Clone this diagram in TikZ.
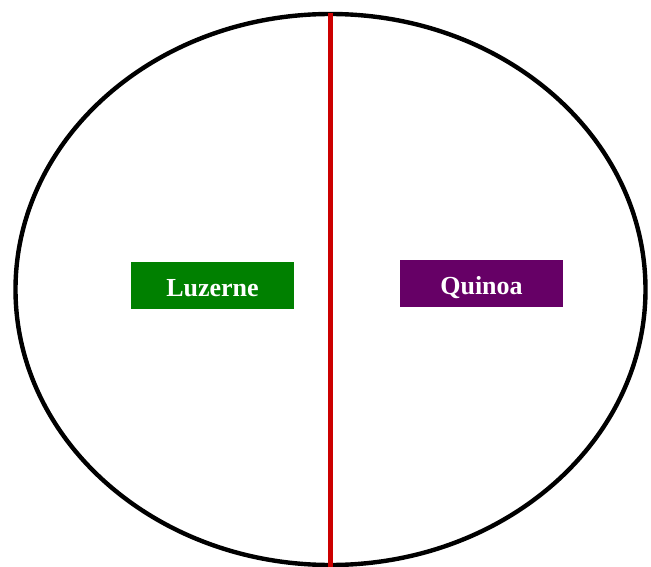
\documentclass[tikz,border=0pt]{standalone}
\usepackage{fontspec}
\setmainfont{Liberation Serif}
\definecolor{luzgreen}{RGB}{0,128,0}
\definecolor{quipurple}{RGB}{102,0,102}
\definecolor{divred}{RGB}{204,0,0}
\tikzset{
  cropbox/.style={minimum width=163pt, minimum height=47pt, inner sep=0pt, text=white,
    text height=22.5pt, text depth=0pt,
    font=\fontsize{26}{30}\selectfont\bfseries},
}
\begin{document}
\begin{tikzpicture}[x=1pt,y=-1pt]
\useasboundingbox (0,0) rectangle (651,567);
\fill[white] (0,0) rectangle (651,567);
\begin{scope}
\clip (0,0) rectangle (651,567);
\draw[line width=4.4pt] (330.5,289.5) ellipse [x radius=315, y radius=275.5];
\coordinate (top) at (330.5,13);
\coordinate (bottom) at (330.5,568);
\draw[divred, line width=5.5pt] (top) -- (bottom);
\end{scope}
\node[cropbox, fill=luzgreen] (luz) at (212.5,285.5) {Luzerne};
\node[cropbox, fill=quipurple] (qui) at (481.5,283.5) {Quinoa};
\end{tikzpicture}
\end{document}
